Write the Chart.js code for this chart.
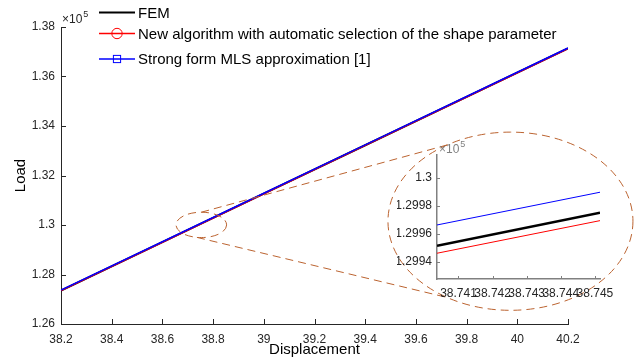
<!DOCTYPE html>
<html><head><meta charset="utf-8">
<script src="https://cdn.jsdelivr.net/npm/chart.js@4.4.0/dist/chart.umd.min.js"></script>
<style>
html,body{margin:0;padding:0;background:#fff;}
#wrap{position:relative;width:634px;height:359px;overflow:hidden;}
canvas{position:absolute;left:0;top:0;}
#inset{pointer-events:none;}
</style></head><body>
<div id="wrap"><canvas id="main" width="634" height="359"></canvas><canvas id="inset" width="634" height="359"></canvas></div>
<script>
// ---- data ----
const seriesLabels = ['FEM', 'New algorithm with automatic selection of the shape parameter', 'Strong form MLS approximation [1]'];
const displacement = [38.2, 38.6, 39.0, 39.4, 39.8, 40.2];
const loadFEM = [127354, 129310, 131266, 133222, 135177, 137133];
const loadNew = [127349, 129305, 131261, 133217, 135172, 137128];
const loadMLS = [127369, 129325, 131281, 133237, 135192, 137148];

const insetDisplacement = [38.74037, 38.74515];
const insetFEM = [129951.4, 129975.0];
const insetNew = [129946.0, 129969.3];
const insetMLS = [129966.2, 129989.6];

const xTicks = [38.2, 38.4, 38.6, 38.8, 39.0, 39.2, 39.4, 39.6, 39.8, 40.0, 40.2];
const yTicks = [126000, 128000, 130000, 132000, 134000, 136000, 138000];
const insetXTicks = [38.741, 38.742, 38.743, 38.744, 38.745];
const insetYTicks = [129940, 129960, 129980, 130000];
const yExponent = 5;

// zoom annotation (data coordinates of the main axes)
const zoomSmall = {cx: 38.7535, cy: 130004, rx: 0.0998, ry: 512};
const zoomBig = {cx: 39.973, cy: 130153, rx: 0.4832, ry: 3600};
const connectors = [[90, 121.2], [260, 238.8]];

// ---- styles ----
const FONT = 'Liberation Sans, Arial, Helvetica, sans-serif';
const seriesColors = ['#000000', '#ff0000', '#0000ff'];
const AXIS = '#262626';
const ANNOT = '#bb6330';

const pts = (xs, ys) => xs.map((x, i) => ({x, y: ys[i]}));
const fmtX = v => String(parseFloat(Number(v).toFixed(6)));
const fmtY = v => String(parseFloat((v / Math.pow(10, yExponent)).toFixed(6)));

const inwardTicks = {
  id: 'inwardTicks',
  afterDatasetsDraw(chart, args, o) {
    const ctx = chart.ctx, a = chart.chartArea, xs = chart.scales.x, ys = chart.scales.y;
    ctx.save();
    ctx.strokeStyle = o.color; ctx.lineWidth = 1; ctx.setLineDash([]);
    xs.ticks.forEach(t => {
      const p = Math.round(xs.getPixelForValue(t.value)) + 0.5;
      ctx.beginPath(); ctx.moveTo(p, a.bottom); ctx.lineTo(p, a.bottom - o.len); ctx.stroke();
    });
    ys.ticks.forEach(t => {
      const p = Math.round(ys.getPixelForValue(t.value)) + 0.5;
      ctx.beginPath(); ctx.moveTo(a.left, p); ctx.lineTo(a.left + o.len, p); ctx.stroke();
    });
    ctx.restore();
  }
};

const exponentLabel = {
  id: 'exponentLabel',
  afterDraw(chart, args, o) {
    const ctx = chart.ctx, a = chart.chartArea;
    ctx.save();
    ctx.fillStyle = o.color; ctx.textBaseline = 'alphabetic'; ctx.textAlign = 'left';
    ctx.font = '12px ' + FONT;
    const x0 = a.left + o.dx, y0 = a.top + o.dy;
    ctx.fillText('\u00d710', x0, y0);
    const w = ctx.measureText('\u00d710').width;
    ctx.font = '9px ' + FONT;
    ctx.fillText(String(yExponent), x0 + w + 1, y0 - 6);
    ctx.restore();
  }
};

const customLegend = {
  id: 'customLegend',
  afterDraw(chart, args, o) {
    const ctx = chart.ctx;
    ctx.save();
    chart.data.datasets.forEach((ds, i) => {
      const y = o.rows[i];
      ctx.strokeStyle = ds.borderColor; ctx.lineWidth = ds.borderWidth; ctx.setLineDash([]);
      ctx.beginPath(); ctx.moveTo(o.x0, y); ctx.lineTo(o.x1, y); ctx.stroke();
      const cx = (o.x0 + o.x1) / 2;
      ctx.lineWidth = 1;
      if (o.markers[i] === 'circle') { ctx.beginPath(); ctx.arc(cx, y, 5.2, 0, Math.PI * 2); ctx.stroke(); }
      if (o.markers[i] === 'square') { ctx.strokeRect(cx - 3.6, y - 3.6, 7.2, 7.2); }
      ctx.fillStyle = '#000'; ctx.font = '15px ' + FONT; ctx.textBaseline = 'middle'; ctx.textAlign = 'left';
      ctx.fillText(ds.label, o.tx, y + 1);
    });
    ctx.restore();
  }
};

const zoomMarks = {
  id: 'zoomMarks',
  afterDatasetsDraw(chart) {
    const ctx = chart.ctx, xs = chart.scales.x, ys = chart.scales.y;
    const pix = (e, deg) => {
      const t = deg * Math.PI / 180;
      return [xs.getPixelForValue(e.cx + e.rx * Math.cos(t)), ys.getPixelForValue(e.cy + e.ry * Math.sin(t))];
    };
    const ell = e => {
      const cx = xs.getPixelForValue(e.cx), cy = ys.getPixelForValue(e.cy);
      const rx = Math.abs(xs.getPixelForValue(e.cx + e.rx) - cx), ry = Math.abs(ys.getPixelForValue(e.cy + e.ry) - cy);
      ctx.beginPath(); ctx.ellipse(cx, cy, rx, ry, 0, 0, Math.PI * 2); ctx.stroke();
    };
    ctx.save();
    ctx.strokeStyle = ANNOT; ctx.lineWidth = 1; ctx.setLineDash([8, 5]);
    ell(zoomSmall); ell(zoomBig);
    connectors.forEach(([a1, a2]) => {
      const p = pix(zoomSmall, a1), q = pix(zoomBig, a2);
      ctx.beginPath(); ctx.moveTo(p[0], p[1]); ctx.lineTo(q[0], q[1]); ctx.stroke();
    });
    ctx.restore();
  }
};

function scaleOpts(ticksArr, min, max, fmt, pad, extra) {
  return Object.assign({
    type: 'linear', min, max,
    afterBuildTicks: s => { s.ticks = ticksArr.map(v => ({value: v})); },
    grid: {display: true, drawOnChartArea: false, drawTicks: false},
    border: {display: true, color: AXIS, width: 1},
    ticks: {autoSkip: false, maxRotation: 0, minRotation: 0, padding: pad, color: AXIS, font: {family: FONT, size: 12}, callback: v => fmt(v)}
  }, extra);
}

new Chart(document.getElementById('main'), {
  type: 'line',
  data: {
    datasets: [
      {label: seriesLabels[0], data: pts(displacement, loadFEM), borderColor: seriesColors[0], borderWidth: 2, order: 2},
      {label: seriesLabels[1], data: pts(displacement, loadNew), borderColor: seriesColors[1], borderWidth: 1.6, order: 1},
      {label: seriesLabels[2], data: pts(displacement, loadMLS), borderColor: seriesColors[2], borderWidth: 1.6, order: 0}
    ]
  },
  options: {
    responsive: false, animation: false, devicePixelRatio: 1,
    layout: {padding: {top: 27, right: 66, bottom: 0, left: 0}},
    elements: {point: {radius: 0}, line: {tension: 0, fill: false}},
    plugins: {
      legend: {display: false}, tooltip: {enabled: false},
      inwardTicks: {len: 5, color: AXIS},
      exponentLabel: {dx: 1, dy: -4, color: AXIS},
      customLegend: {x0: 99, x1: 135, tx: 138, rows: [12.5, 33.5, 59], markers: ['none', 'circle', 'square']}
    },
    scales: {
      x: scaleOpts(xTicks, 38.2, 40.2, fmtX, 8, {
        afterFit: s => { s.height = 35; },
        title: {display: true, text: 'Displacement', color: '#000', font: {family: FONT, size: 15}, padding: {top: 0, bottom: 0}}
      }),
      y: scaleOpts(yTicks, 126000, 138000, fmtY, 6, {
        afterFit: s => { s.width = 61; },
        title: {display: true, text: 'Load', color: '#000', font: {family: FONT, size: 15}, padding: {top: 12, bottom: 0}}
      })
    }
  },
  plugins: [inwardTicks, zoomMarks, exponentLabel, customLegend]
});

const INSET_AXIS = '#808080';
new Chart(document.getElementById('inset'), {
  type: 'line',
  data: {
    datasets: [
      {label: seriesLabels[0], data: pts(insetDisplacement, insetFEM), borderColor: seriesColors[0], borderWidth: 2.5},
      {label: seriesLabels[1], data: pts(insetDisplacement, insetNew), borderColor: seriesColors[1], borderWidth: 1},
      {label: seriesLabels[2], data: pts(insetDisplacement, insetMLS), borderColor: seriesColors[2], borderWidth: 1}
    ]
  },
  options: {
    responsive: false, animation: false, devicePixelRatio: 1,
    layout: {padding: {top: 155, right: 34, bottom: 50, left: 397}},
    elements: {point: {radius: 0}, line: {tension: 0, fill: false}},
    plugins: {
      legend: {display: false}, tooltip: {enabled: false},
      inwardTicks: {len: 3, color: INSET_AXIS},
      exponentLabel: {dx: 2, dy: -2, color: INSET_AXIS}
    },
    scales: {
      x: scaleOpts(insetXTicks, 38.74037, 38.74515, fmtX, 7, {
        afterFit: s => { s.height = 30; },
        border: {display: true, color: INSET_AXIS, width: 1.5}
      }),
      y: scaleOpts(insetYTicks, 129927.6, 130016.2, fmtY, 5, {
        afterFit: s => { s.width = 40; },
        border: {display: true, color: INSET_AXIS, width: 1.5}
      })
    }
  },
  plugins: [inwardTicks, exponentLabel]
});
</script>
</body></html>
